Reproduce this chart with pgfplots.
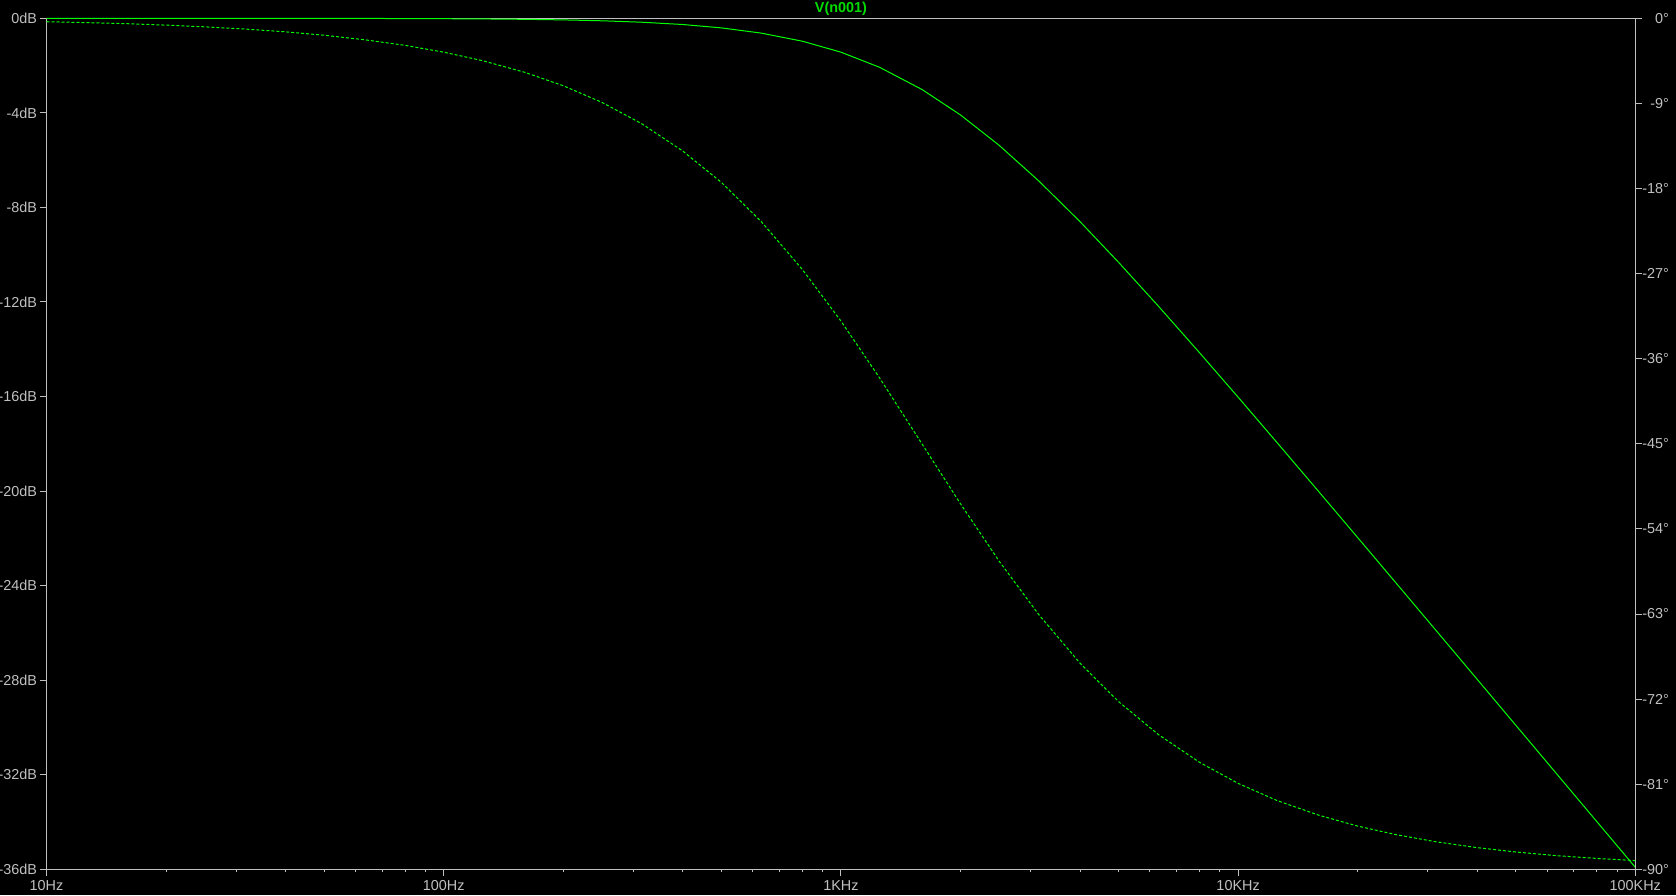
\documentclass[border=0pt]{standalone}
\usepackage{pgfplots}
\pgfplotsset{compat=1.18}
\usepackage{pgfplotstable}
\usepackage{fontspec}
\setmainfont{Liberation Sans}

\definecolor{trace}{RGB}{0,255,0}
\definecolor{titlegreen}{RGB}{0,220,0}
\definecolor{lsgray}{RGB}{192,192,192}

% magnitude of V(n001), dB
\pgfplotstableread{
f mag
10 0.00
20 0.00
40 -0.003
70 -0.008
100 -0.017
125 -0.026
160 -0.043
200 -0.067
250 -0.105
315 -0.165
400 -0.263
500 -0.405
630 -0.626
800 -0.969
1000 -1.432
1250 -2.069
1600 -3.010
2000 -4.087
2500 -5.367
3150 -6.881
4000 -8.603
5000 -10.321
6300 -12.176
8000 -14.150
10000 -16.027
12500 -17.926
16000 -20.043
20000 -21.966
25000 -23.894
31500 -25.895
40000 -27.966
50000 -29.902
63000 -31.907
80000 -33.981
100000 -35.918
}\magdata

% phase of V(n001), degrees
\pgfplotstableread{
f ph
10 -0.36
12.5 -0.45
16 -0.57
20 -0.72
25 -0.90
31.5 -1.13
40 -1.43
50 -1.79
63 -2.26
80 -2.86
100 -3.58
125 -4.47
160 -5.71
200 -7.13
250 -8.88
315 -11.14
400 -14.04
500 -17.35
630 -21.49
800 -26.57
1000 -32.01
1250 -38.00
1600 -45.00
2000 -51.34
2500 -57.38
3150 -63.07
4000 -68.20
5000 -72.26
6300 -75.75
8000 -78.69
10000 -80.91
12500 -82.71
16000 -84.29
20000 -85.43
25000 -86.34
31500 -87.09
40000 -87.71
50000 -88.17
63000 -88.55
80000 -88.85
100000 -89.08
}\phasedata

\begin{document}
\begin{tikzpicture}
\fill[black] (0,0) rectangle (838pt,447.5pt);

\begin{axis}[
  at={(23.25pt,12.85pt)}, anchor=south west,
  scale only axis, width=794.4pt, height=425.5pt,
  xmode=log, xmin=10, xmax=100000,
  axis line style={lsgray, line width=0.5pt},
  tick style={lsgray, line width=0.5pt},
  tick align=outside,
  major tick length=3.5pt, minor tick length=1.5pt,
  tick label style={text=lsgray, font=\fontsize{7.2}{8}\selectfont, inner sep=0pt},
  clip=false,
  xtick pos=bottom, ytick pos=left,
  xtick={10,100,1000,10000,100000},
  xticklabels={10Hz,100Hz,1KHz,10KHz,100KHz},
  xticklabel shift=1.8pt,
  ymin=-36, ymax=0,
  ytick={-36,-32,-28,-24,-20,-16,-12,-8,-4,0},
  yticklabels={-36dB,-32dB,-28dB,-24dB,-20dB,-16dB,-12dB,-8dB,-4dB,0dB},
  yticklabel shift=1.1pt,
]
\addplot[trace, line width=0.5pt] table[x=f, y=mag] {\magdata};
\node[text=titlegreen, font=\fontsize{7.2}{8}\selectfont\bfseries, inner sep=0pt,
  anchor=center, yshift=4.65pt] at (rel axis cs:0.5,1) {V(n001)};
\end{axis}

\begin{axis}[
  at={(23.25pt,12.85pt)}, anchor=south west,
  scale only axis, width=794.4pt, height=425.5pt,
  xmode=log, xmin=10, xmax=100000,
  axis x line=none, axis y line*=right,
  axis line style={lsgray, line width=0.5pt, -},
  tick style={lsgray, line width=0.5pt},
  tick align=outside,
  major tick length=3.5pt, minor tick length=1.5pt,
  tick label style={text=lsgray, font=\fontsize{7.2}{8}\selectfont, inner sep=0pt},
  clip=false,
  ymin=-90, ymax=0,
  ytick={-90,-81,-72,-63,-54,-45,-36,-27,-18,-9,0},
  yticklabels={-90°,-81°,-72°,-63°,-54°,-45°,-36°,-27°,-18°,-9°,0°},
  yticklabel style={anchor=east},
  yticklabel shift=13.5pt,
]
\addplot[trace, line width=0.5pt, dash pattern=on 1.5pt off 1pt] table[x=f, y=ph] {\phasedata};
\end{axis}

\pgfresetboundingbox
\useasboundingbox (0,0) rectangle (838pt,447.5pt);
\end{tikzpicture}
\end{document}
